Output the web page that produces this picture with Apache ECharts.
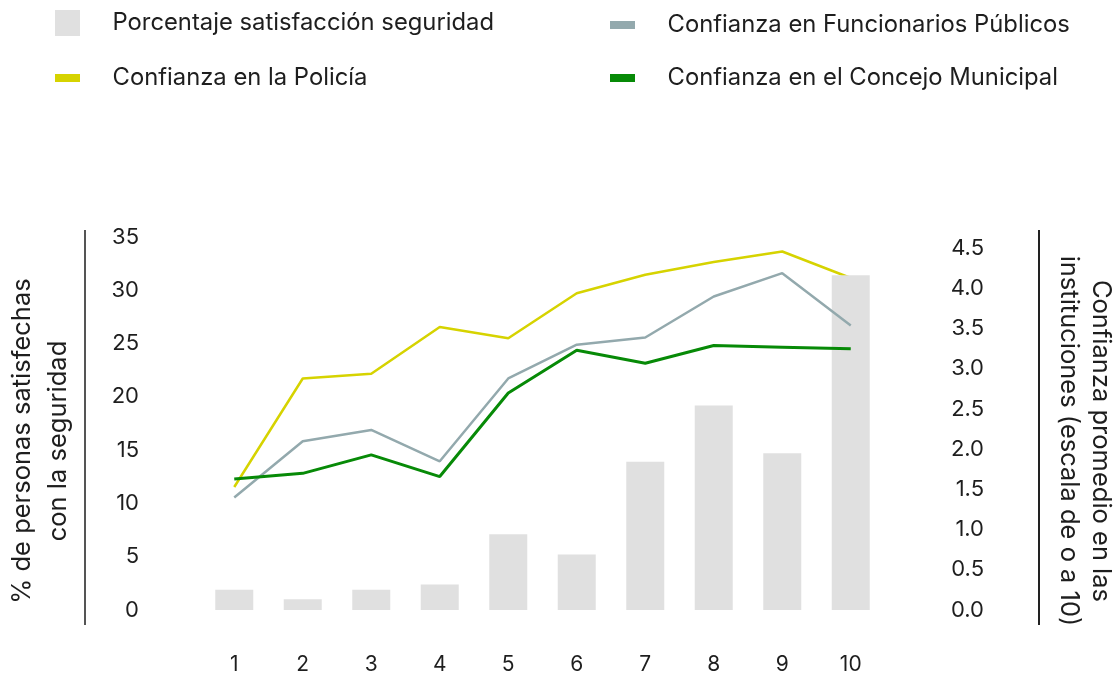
<!DOCTYPE html>
<html>
<head>
<meta charset="utf-8">
<script src="https://cdn.jsdelivr.net/npm/echarts@6/dist/echarts.min.js"></script>
<style>
  html, body { margin: 0; padding: 0; background: #fff; }
  #chart { width: 1118px; height: 679px; }
</style>
</head>
<body>
<div id="chart"></div>
<script>
  // datos
  var categorias = ['1', '2', '3', '4', '5', '6', '7', '8', '9', '10'];
  var satisfaccion = [1.9, 1.0, 1.9, 2.4, 7.1, 5.2, 13.9, 19.2, 14.7, 31.4];
  var policia = [1.53, 2.88, 2.94, 3.52, 3.38, 3.94, 4.17, 4.33, 4.46, 4.13];
  var funcionarios = [1.40, 2.10, 2.24, 1.85, 2.88, 3.30, 3.39, 3.90, 4.19, 3.54];
  var concejo = [1.63, 1.70, 1.93, 1.66, 2.70, 3.23, 3.07, 3.29, 3.27, 3.25];

  var FONT = 'Inter';
  var TXT = '#1e1e1e';

  var myChart = echarts.init(document.getElementById('chart'));

  function legendItem(name, left, top, h) {
    return {
      left: left, top: top,
      padding: 0,
      itemWidth: 25, itemHeight: h,
      icon: 'rect',
      selectedMode: false,
      data: [name],
      textStyle: { fontFamily: FONT, fontSize: 23.8, color: TXT, padding: [0, 0, 0, 27.5] }
    };
  }

  var option = {
    animation: false,
    backgroundColor: '#fff',
    textStyle: { fontFamily: FONT },
    legend: [
      legendItem('Porcentaje satisfacción seguridad', 55, 10, 26),
      legendItem('Confianza en Funcionarios Públicos', 610, 13, 8),
      legendItem('Confianza en la Policía', 55, 66, 8),
      legendItem('Confianza en el Concejo Municipal', 610, 66, 8)
    ],
    grid: { left: 200, right: 233, top: 237, bottom: 69 },
    xAxis: {
      type: 'category',
      data: categorias,
      axisLine: { show: false },
      axisTick: { show: false },
      axisLabel: { margin: 44, fontSize: 21, color: TXT, fontFamily: FONT }
    },
    yAxis: [
      {
        type: 'value', min: 0, max: 35, interval: 5,
        splitLine: { show: false },
        axisLine: { show: false },
        axisTick: { show: false },
        axisLabel: { margin: 61, align: 'right', fontSize: 22, color: TXT, fontFamily: FONT }
      },
      {
        type: 'value', min: 0, max: 4.64, interval: 0.5,
        position: 'right',
        splitLine: { show: false },
        axisLine: { show: false },
        axisTick: { show: false },
        axisLabel: {
          margin: 99, align: 'right', fontSize: 22, color: TXT, fontFamily: FONT,
          formatter: function (v) {
            return Math.abs(v * 2 - Math.round(v * 2)) < 1e-6 ? v.toFixed(1) : '';
          }
        }
      }
    ],
    graphic: [
      { type: 'line', shape: { x1: 85, y1: 230, x2: 85, y2: 625 }, style: { stroke: '#555', lineWidth: 2 } },
      { type: 'line', shape: { x1: 1039, y1: 230, x2: 1039, y2: 625 }, style: { stroke: '#222', lineWidth: 2 } },
      {
        type: 'text', x: 40, y: 441, rotation: Math.PI / 2,
        style: {
          text: '% de personas satisfechas\ncon la seguridad',
          font: '25.5px ' + FONT, fill: TXT, align: 'center', verticalAlign: 'middle', lineHeight: 36
        }
      },
      {
        type: 'text', x: 1085, y: 441, rotation: -Math.PI / 2,
        style: {
          text: 'Confianza promedio en las\ninstituciones (escala de o a 10)',
          font: '25.5px ' + FONT, fill: TXT, align: 'center', verticalAlign: 'middle', lineHeight: 32
        }
      }
    ],
    series: [
      {
        name: 'Confianza en la Policía',
        type: 'line', yAxisIndex: 1, z: 1,
        data: policia,
        showSymbol: false,
        itemStyle: { color: '#d6d300' },
        lineStyle: { color: '#d6d300', width: 2.5 }
      },
      {
        name: 'Porcentaje satisfacción seguridad',
        type: 'bar', yAxisIndex: 0, z: 2,
        data: satisfaccion,
        barWidth: 38,
        itemStyle: { color: '#e0e0e0' }
      },
      {
        name: 'Confianza en Funcionarios Públicos',
        type: 'line', yAxisIndex: 1, z: 3,
        data: funcionarios,
        showSymbol: false,
        itemStyle: { color: '#93a9ad' },
        lineStyle: { color: '#93a9ad', width: 2.5 }
      },
      {
        name: 'Confianza en el Concejo Municipal',
        type: 'line', yAxisIndex: 1, z: 4,
        data: concejo,
        showSymbol: false,
        itemStyle: { color: '#078a07' },
        lineStyle: { color: '#078a07', width: 3 }
      }
    ]
  };

  option && myChart.setOption(option);
</script>
</body>
</html>
